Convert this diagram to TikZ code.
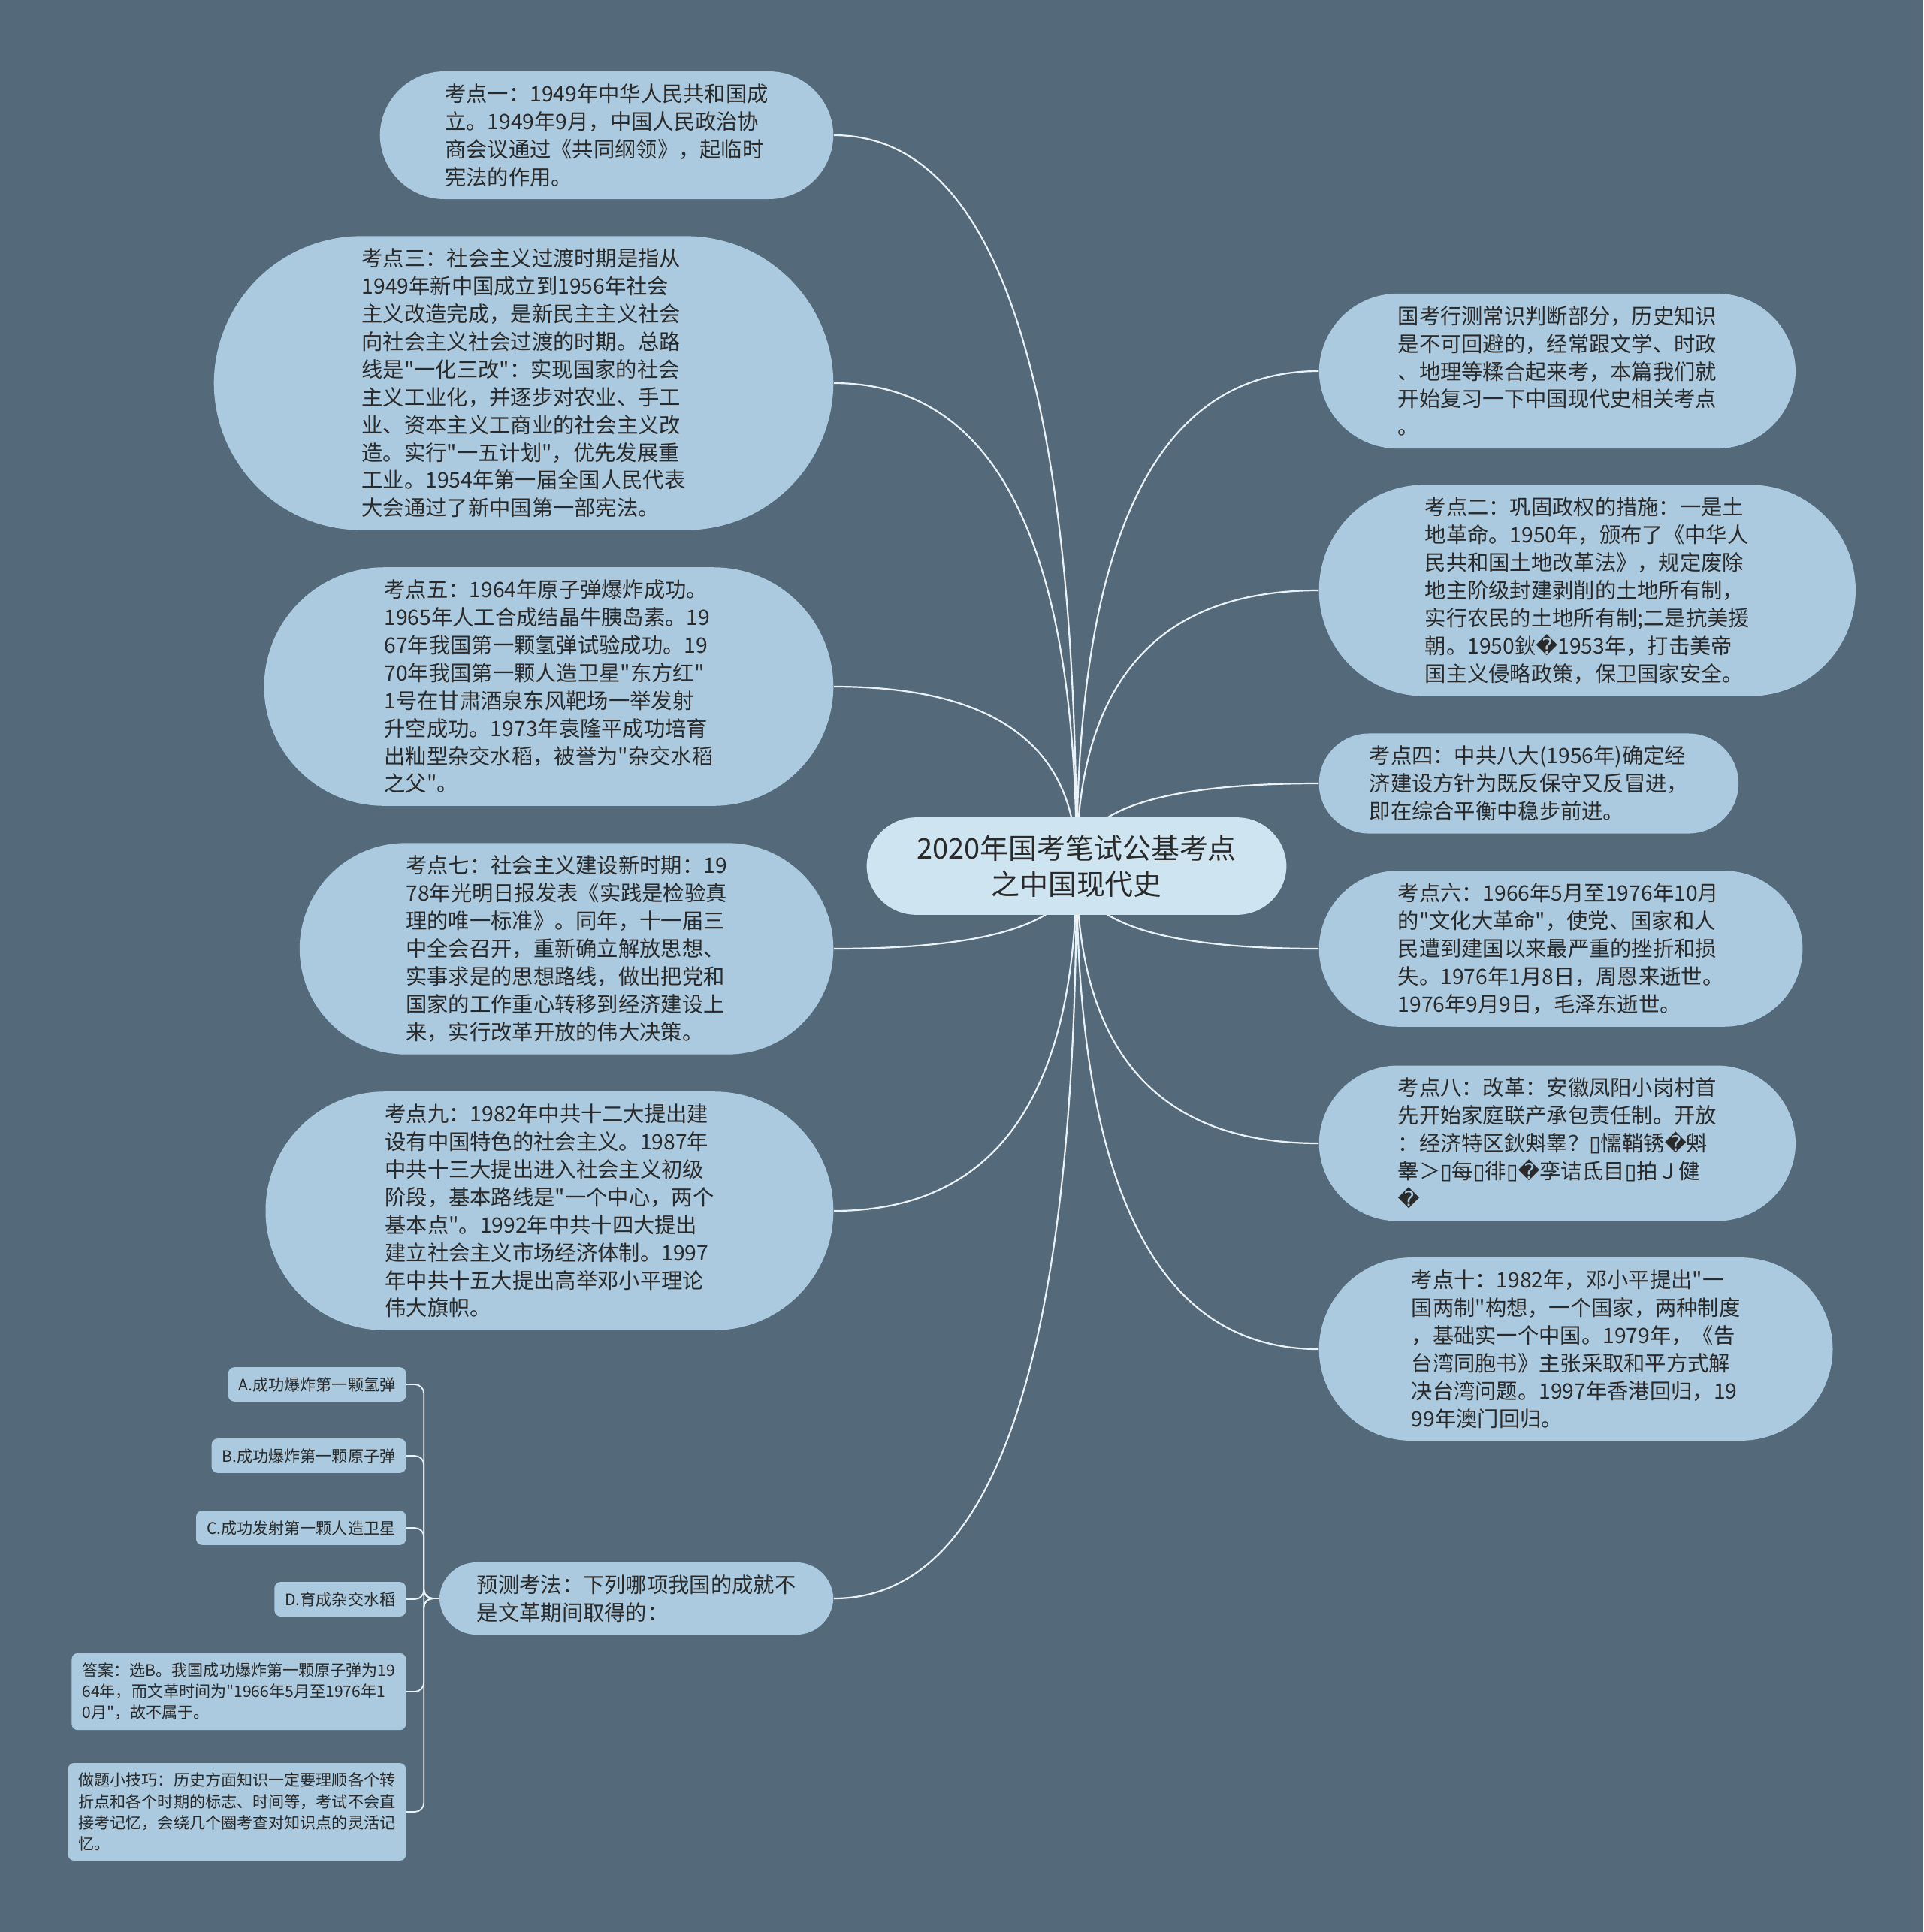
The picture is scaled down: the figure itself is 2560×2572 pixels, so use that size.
\documentclass[tikz,border=0pt]{standalone}
\usepackage{fontspec}
\newfontfamily\cjk{Noto Sans CJK SC}
\newfontfamily\symfont{DejaVu Sans}
\usetikzlibrary{calc}

\definecolor{slate}{HTML}{546A7B}
\definecolor{topicfill}{HTML}{ABCADF}
\definecolor{rootfill}{HTML}{CEE4F1}
\definecolor{linkcol}{HTML}{EAF2F7}
\definecolor{inkcol}{HTML}{2A2A2A}

% garbled glyphs as printed in the source
\newcommand{\gq}{{\symfont\char"FFFD}}
\newcommand{\gbox}{{\symfont\char"25AF}}

\pgfdeclarelayer{bg}
\pgfdeclarelayer{edges}
\pgfsetlayers{bg,edges,main}

\begin{document}
\begin{tikzpicture}[x=0.1mm, y=-0.1mm,
	topic/.style={rectangle, fill=topicfill, text=inkcol, align=left,
		inner xsep=#1, rounded corners=#1-0.05mm, inner ysep=1.65mm,
		font={\cjk\fontsize{8.05pt}{10.5pt}\selectfont}},
	rootbox/.style={rectangle, fill=rootfill, text=inkcol, align=center,
		inner xsep=6.65mm, rounded corners=6.6mm, inner ysep=2.35mm,
		font={\cjk\fontsize{10.8pt}{13.5pt}\selectfont}},
	leaf/.style={rectangle, rounded corners=0.8mm, fill=topicfill, text=inkcol, align=left,
		inner xsep=1.4mm, inner ysep=1.3mm, font={\cjk\fontsize{6pt}{8pt}\selectfont}},
	link/.style={draw=linkcol, line width=0.22mm},
	sublink/.style={draw=linkcol, line width=0.18mm, rounded corners=1.2mm}]

\begin{pgfonlayer}{bg}
	\fill[slate] (0,0) rectangle (2560,2572);
\end{pgfonlayer}

\node[rootbox] (root) at (1433,1153) {2020年国考笔试公基考点\\之中国现代史};

% Lado izquierdo
\node[topic=8.65mm, anchor=east] (k1) at (1110,180) {考点一：1949年中华人民共和国成\\立。1949年9月，中国人民政治协\\商会议通过《共同纲领》，起临时\\宪法的作用。};

\node[topic=19.7mm, anchor=east] (k3) at (1110,510) {考点三：社会主义过渡时期是指从\\1949年新中国成立到1956年社会\\主义改造完成，是新民主主义社会\\向社会主义社会过渡的时期。总路\\线是"一化三改"：实现国家的社会\\主义工业化，并逐步对农业、手工\\业、资本主义工商业的社会主义改\\造。实行"一五计划"，优先发展重\\工业。1954年第一届全国人民代表\\大会通过了新中国第一部宪法。};

\node[topic=16mm, anchor=east] (k5) at (1110,914) {考点五：1964年原子弹爆炸成功。\\1965年人工合成结晶牛胰岛素。19\\67年我国第一颗氢弹试验成功。19\\70年我国第一颗人造卫星"东方红"\\1号在甘肃酒泉东风靶场一举发射\\升空成功。1973年袁隆平成功培育\\出籼型杂交水稻，被誉为"杂交水稻\\之父"。};

\node[topic=14.15mm, anchor=east] (k7) at (1110,1263) {考点七：社会主义建设新时期：19\\78年光明日报发表《实践是检验真\\理的唯一标准》。同年，十一届三\\中全会召开，重新确立解放思想、\\实事求是的思想路线，做出把党和\\国家的工作重心转移到经济建设上\\来，实行改革开放的伟大决策。};

\node[topic=15.9mm, anchor=east] (k9) at (1110,1612) {考点九：1982年中共十二大提出建\\设有中国特色的社会主义。1987年\\中共十三大提出进入社会主义初级\\阶段，基本路线是"一个中心，两个\\基本点"。1992年中共十四大提出\\建立社会主义市场经济体制。1997\\年中共十五大提出高举邓小平理论\\伟大旗帜。};

\node[topic=5mm, anchor=east] (yc) at (1110,2128) {预测考法：下列哪项我国的成就不\\是文革期间取得的：};

% Lado derecho
\node[topic=10.5mm, anchor=west] (gk) at (1755,494) {国考行测常识判断部分，历史知识\\是不可回避的，经常跟文学、时政\\、地理等糅合起来考，本篇我们就\\开始复习一下中国现代史相关考点\\。};

\node[topic=14.1mm, anchor=west] (k2) at (1755,786) {考点二：巩固政权的措施：一是土\\地革命。1950年，颁布了《中华人\\民共和国土地改革法》，规定废除\\地主阶级封建剥削的土地所有制，\\实行农民的土地所有制;二是抗美援\\朝。1950鈥\gq 1953年，打击美帝\\国主义侵略政策，保卫国家安全。};

\node[topic=6.7mm, anchor=west] (k4) at (1755,1043) {考点四：中共八大(1956年)确定经\\济建设方针为既反保守又反冒进，\\即在综合平衡中稳步前进。};

\node[topic=10.5mm, anchor=west] (k6) at (1755,1263) {考点六：1966年5月至1976年10月\\的"文化大革命"，使党、国家和人\\民遭到建国以来最严重的挫折和损\\失。1976年1月8日，周恩来逝世。\\1976年9月9日，毛泽东逝世。};

\node[topic=10.5mm, anchor=west] (k8) at (1755,1522) {考点八：改革：安徽凤阳小岗村首\\先开始家庭联产承包责任制。开放\\：经济特区鈥斞睾？\gbox 懦鞘锈\gq 斞\\睾＞\gbox 每\gbox 徘\gbox \gq 孪诘氐目\gbox 拍Ｊ健\\\gq};

\node[topic=12.3mm, anchor=west] (k10) at (1755,1796) {考点十：1982年，邓小平提出"一\\国两制"构想，一个国家，两种制度\\，基础实一个中国。1979年，《告\\台湾同胞书》主张采取和平方式解\\决台湾问题。1997年香港回归，19\\99年澳门回归。};

% Opciones
\node[leaf, anchor=east] (qa) at (541,1843) {A.成功爆炸第一颗氢弹};
\node[leaf, anchor=east] (qb) at (541,1938) {B.成功爆炸第一颗原子弹};
\node[leaf, anchor=east] (qc) at (541,2034) {C.成功发射第一颗人造卫星};
\node[leaf, anchor=east] (qd) at (541,2129) {D.育成杂交水稻};
\node[leaf, anchor=east] (ans) at (541,2252) {答案：选B。我国成功爆炸第一颗原子弹为19\\64年，而文革时间为"1966年5月至1976年1\\0月"，故不属于。};
\node[leaf, anchor=east] (tip) at (541,2412) {做题小技巧：历史方面知识一定要理顺各个转\\折点和各个时期的标志、时间等，考试不会直\\接考记忆，会绕几个圈考查对知识点的灵活记\\忆。};

\begin{pgfonlayer}{edges}
	\foreach \t in {k1,k3,k5,k7,k9,yc}
		\draw[link] (root.center) .. controls ($(root.center)!0.667!(root.center |- \t.east)$)
			and ($(\t.east)!0.667!(root.center |- \t.east)$) .. (\t.east);
	\foreach \t in {gk,k2,k4,k6,k8,k10}
		\draw[link] (root.center) .. controls ($(root.center)!0.667!(root.center |- \t.west)$)
			and ($(\t.west)!0.667!(root.center |- \t.west)$) .. (\t.west);
	\foreach \t in {qa,qb,qc,qd,ans,tip}
		\draw[sublink] (yc.west) -- ++(-20,0) |- (\t.east);
\end{pgfonlayer}
\end{tikzpicture}
\end{document}
